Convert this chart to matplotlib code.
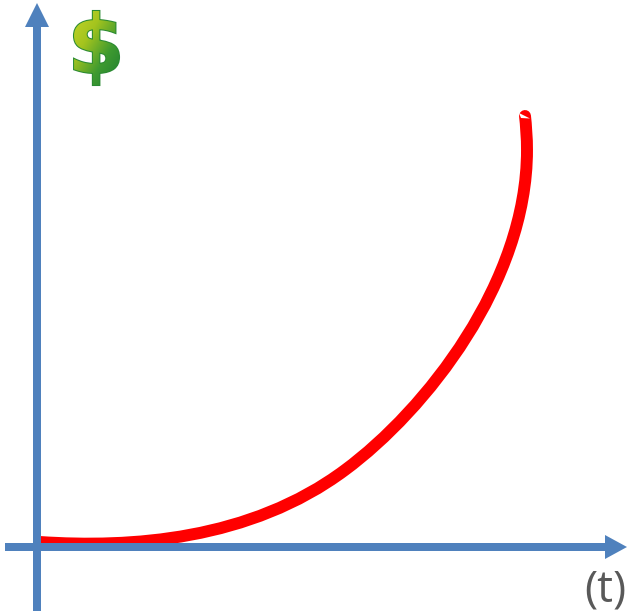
import numpy as np
import matplotlib
matplotlib.use('Agg')
import matplotlib.pyplot as plt
from matplotlib.path import Path
from matplotlib.textpath import TextPath
from matplotlib.font_manager import FontProperties
from matplotlib.patches import PathPatch
from matplotlib.transforms import Affine2D

# curve, in picture pixels (bezier nodes and handles)
curve_x = [40, 130, 250, 345, 426, 527, 527, 527, 526, 525]
curve_y = [542, 548, 540.7, 470, 410, 282, 150, 138, 125, 116]

axis_color = '#4F81BD'

fig = plt.figure(figsize=(6.27, 6.13), dpi=100)
ax = fig.add_axes([0, 0, 1, 1])
ax.set_xlim(0, 627)
ax.set_ylim(613, 0)
ax.axis('off')

codes = [Path.MOVETO] + [Path.CURVE4] * (len(curve_x) - 1)
curve = PathPatch(Path(np.column_stack([curve_x, curve_y]), codes), fc='none', ec='#FF0000', lw=8.6,
                  capstyle='round', joinstyle='round', zorder=2)
ax.add_patch(curve)
# little white nick at the end of the curve
ax.fill([519, 530, 521], [113, 118.5, 118], color='white', lw=0, zorder=3)

# axes as arrows
ax.arrow(37, 611, 0, -608, width=8, head_width=24, head_length=24, length_includes_head=True,
         color=axis_color, lw=0, zorder=4)
ax.arrow(5, 547, 622, 0, width=8, head_width=24, head_length=22, length_includes_head=True,
         color=axis_color, lw=0, zorder=4)

ax.text(605, 612.5, '(t)', fontsize=32, family='Open Sans', color='#595959', ha='center', va='bottom',
        zorder=5)

# dollar sign, dark text with a gradient clipped on top
fp = FontProperties(family='DejaVu Sans', weight='bold')
tp = TextPath((0, 0), '\\$', size=88, prop=fp)
bb = tp.get_extents()
sx = 45 / bb.width
sy = 74 / bb.height
tr = Affine2D().translate(-bb.x0, -bb.y0).scale(sx, -sy).translate(74, 85) + ax.transData
ax.add_patch(PathPatch(tp, transform=tr, fc='#1E7D32', ec='#2A8A32', lw=1.5, zorder=5))
grad = np.linspace(0, 1, 100)
xx, yy = np.meshgrid(grad, grad)
im = ax.imshow((xx + yy) / 2, extent=(73, 120, 85, 10), cmap=matplotlib.colors.LinearSegmentedColormap.from_list(
    'dollar', ['#C4D62A', '#A4C41E', '#3E9A30', '#1E7D32']), aspect='auto', zorder=6)
im.set_clip_path(PathPatch(tp, transform=tr))
ax.set_xlim(0, 627)
ax.set_ylim(613, 0)

fig.savefig('out.png', dpi=100)
